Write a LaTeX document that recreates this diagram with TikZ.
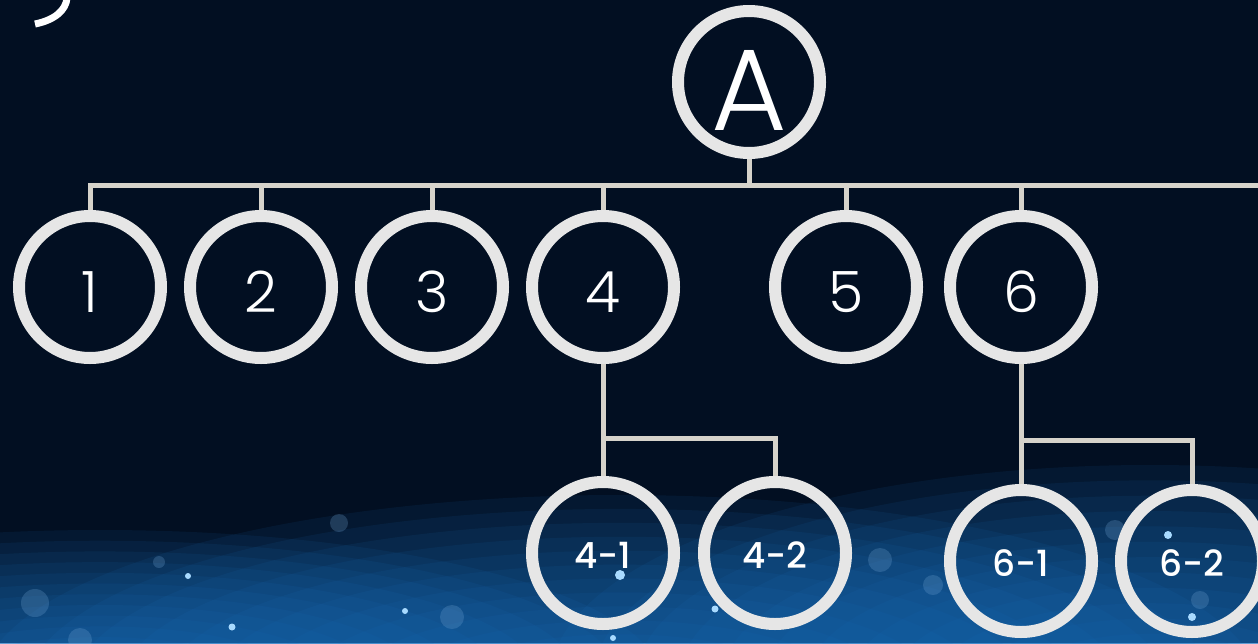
\documentclass[tikz,border=0pt]{standalone}
\usepackage{fontspec}
\setmainfont{Poppins}
\newfontfamily\thinfont{Poppins Light}
\newfontfamily\midfont{Poppins Medium}
\definecolor{sfondo}{HTML}{020F22}
\definecolor{bordo}{HTML}{E6E6E6}
\definecolor{linea}{HTML}{D6D3CB}
\definecolor{bagliore}{HTML}{1A70BE}
\definecolor{puntino}{HTML}{A8DAFF}
\tikzset{
  nodo/.style={circle, draw=bordo, line width=12pt, minimum size=142pt, inner sep=0pt, text=white},
  nodoA/.style={nodo, font=\thinfont\fontsize{116}{116}\selectfont, text height=96pt, text depth=0pt},
  nodonum/.style={nodo, font=\thinfont\fontsize{57}{57}\selectfont, text height=50pt, text depth=0pt},
  nodosub/.style={nodo, font=\midfont\fontsize{36}{36}\selectfont, text height=30pt, text depth=0pt},
  ramo/.style={draw=linea, line width=5pt},
  sfocato/.style={fill=bagliore!60!white, opacity=0.25},
}
\begin{document}
\begin{tikzpicture}[x=1pt, y=-1pt]
        % Sfondo
        \useasboundingbox (0,0) rectangle (1258,643);
        \clip (0,0) rectangle (1258,643);
        \fill[sfondo] (0,0) rectangle (1258,643);

        % --- BAGLIORE BLU IN BASSO ---
        % strati di ellissi semi-trasparenti, uno dentro l'altro
        \foreach \cx/\cy/\rx/\ry in {100/680/560/150, 620/690/640/195, 1150/680/600/215} {
            \foreach \k in {1,...,14} {
                \fill[bagliore, opacity=0.1] (\cx,\cy) ellipse ({\rx*\k/14} and {\ry*\k/14});
            }
        }
        \foreach \x/\y/\r in {35/603/14, 159/562/6, 339/523/9, 452/617/12, 933/585/10, 1115/530/10, 880/560/12, 1200/600/9, 80/640/12} {
            \fill[sfocato] (\x,\y) circle (\r);
        }
        \foreach \x/\y/\r in {188/576/3, 232/627/3.5, 405/611/3, 620/575/5, 715/609/3.5, 613/638/3, 1168/535/4, 1192/617/4} {
            \fill[puntino] (\x,\y) circle (\r);
        }
        % --- FINE BAGLIORE ---

        % Tratto in alto a sinistra
        \draw[white, line width=7pt] (35,24) .. controls (55,20) and (66,10) .. (67,-2);

        % Nodi
        \node[nodoA] (A) at (749,82) {A};
        \foreach \i/\x in {1/90, 2/261, 3/432, 4/603, 5/846, 6/1021} {
            \node[nodonum] (n\i) at (\x,287) {\i};
        }
        \node[nodosub] (n41) at (603,553) {4-1};
        \node[nodosub] (n42) at (775,553) {4-2};
        \node[nodosub] (n61) at (1021,561) {6-1};
        \node[nodosub] (n62) at (1192,561) {6-2};

        % Collegamenti
        \coordinate (bus) at (749,185);
        \coordinate (busfine) at (1262,185);
        \coordinate (g4) at (603,438);
        \coordinate (g6) at (1021,440);
        \draw[ramo] (A.south) -- (bus);
        \draw[ramo] (n1.north) |- (busfine);
        \foreach \i in {2,...,6} {
            \draw[ramo] (n\i.north) -- (n\i.north |- bus);
        }
        \draw[ramo] (n4.south) -- (n41.north);
        \draw[ramo] (g4) -| (n42.north);
        \draw[ramo] (n6.south) -- (n61.north);
        \draw[ramo] (g6) -| (n62.north);
\end{tikzpicture}
\end{document}
